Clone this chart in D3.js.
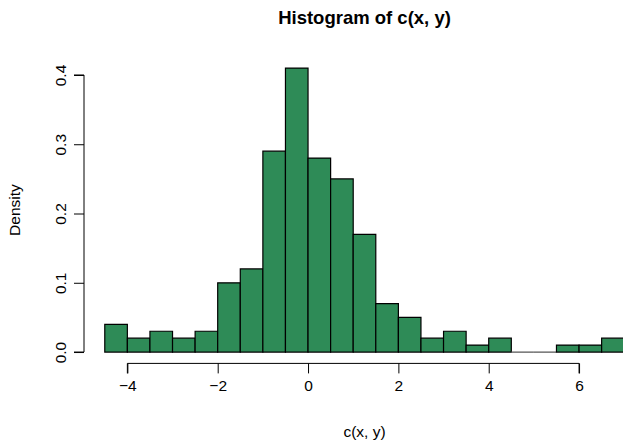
<!DOCTYPE html>
<html>
<head>
<meta charset="utf-8">
<script src="https://cdn.jsdelivr.net/npm/d3@7"></script>
<style>
  html, body { margin: 0; padding: 0; background: #fff; }
  svg { display: block; }
  text { font-family: "Liberation Sans", Arial, Helvetica, sans-serif; fill: #000; }
</style>
</head>
<body>
<svg id="chart" width="623" height="442"></svg>
<script>
// Histogram bin edges and densities of c(x, y)
const breaks = [-4.5, -4, -3.5, -3, -2.5, -2, -1.5, -1, -0.5, 0, 0.5, 1, 1.5, 2,
                2.5, 3, 3.5, 4, 4.5, 5, 5.5, 6, 6.5, 7];
const density = [0.04, 0.02, 0.03, 0.02, 0.03, 0.10, 0.12, 0.29, 0.41, 0.28, 0.25,
                 0.17, 0.07, 0.05, 0.02, 0.03, 0.01, 0.02, 0.00, 0.00, 0.01, 0.01, 0.02];
const xTicks = [-4, -2, 0, 2, 4, 6];
const yTicks = [0.0, 0.1, 0.2, 0.3, 0.4];

const bins = density.map((d, i) => ({ x0: breaks[i], x1: breaks[i + 1], d }));

const svg = d3.select("#chart");

// Plot region with R-style 4% padding on each axis
const plot = { left: 84, right: 645, top: 56.7, bottom: 363.4 };
const xr = [d3.min(breaks), d3.max(breaks)];
const xpad = (xr[1] - xr[0]) * 0.04;
const yr = [0, d3.max(density)];
const ypad = (yr[1] - yr[0]) * 0.04;

const x = d3.scaleLinear().domain([xr[0] - xpad, xr[1] + xpad]).range([plot.left, plot.right]);
const y = d3.scaleLinear().domain([yr[0] - ypad, yr[1] + ypad]).range([plot.bottom, plot.top]);

// Bars as closed paths so that empty bins still show as a line on the baseline
svg.append("clipPath").attr("id", "plotclip")
  .append("rect")
  .attr("x", plot.left).attr("y", plot.top)
  .attr("width", plot.right - plot.left).attr("height", plot.bottom - plot.top);

svg.append("g").attr("clip-path", "url(#plotclip)")
  .selectAll("path").data(bins).join("path")
  .attr("d", b => {
    const l = x(b.x0), r = x(b.x1), t = y(b.d), z = y(0);
    return `M${l},${z}V${t}H${r}V${z}Z`;
  })
  .attr("fill", "#2E8B57")
  .attr("stroke", b => b.d === 0 ? "#555" : "#000")
  .attr("stroke-width", 1.2);

const fontSize = 15.5;

// x axis
const xAxis = svg.append("g").attr("transform", `translate(0,${plot.bottom})`)
  .call(d3.axisBottom(x).tickValues(xTicks).tickSize(10).tickPadding(7)
        .tickFormat(d3.format("d")));
xAxis.select(".domain")
  .attr("d", `M${x(xTicks[0])},10V0H${x(xTicks[xTicks.length - 1])}V10`);
xAxis.selectAll("line, .domain").attr("stroke", "#000").attr("stroke-width", 1);
xAxis.selectAll("text").attr("font-size", fontSize)
  .style("font-family", '"Liberation Sans", Arial, sans-serif');

// y axis with rotated labels
const yAxis = svg.append("g").attr("transform", `translate(${plot.left},0)`)
  .call(d3.axisLeft(y).tickValues(yTicks).tickSize(10).tickFormat(d3.format(".1f")));
yAxis.select(".domain")
  .attr("d", `M-10,${y(yTicks[0])}H0V${y(yTicks[yTicks.length - 1])}H-10`);
yAxis.selectAll("line, .domain").attr("stroke", "#000").attr("stroke-width", 1);
yAxis.selectAll(".tick text")
  .attr("x", null).attr("dy", null)
  .attr("text-anchor", "middle")
  .attr("transform", "translate(-18,0) rotate(-90)")
  .attr("font-size", fontSize)
  .style("font-family", '"Liberation Sans", Arial, sans-serif');

// Title and axis labels
const cx = (plot.left + plot.right) / 2;
svg.append("text").attr("x", cx).attr("y", 24)
  .attr("text-anchor", "middle").attr("font-size", 18.5).attr("font-weight", "bold")
  .text("Histogram of c(x, y)");

svg.append("text").attr("x", cx).attr("y", 437)
  .attr("text-anchor", "middle").attr("font-size", fontSize)
  .text("c(x, y)");

svg.append("text")
  .attr("transform", `translate(20,${(plot.top + plot.bottom) / 2}) rotate(-90)`)
  .attr("text-anchor", "middle").attr("font-size", fontSize)
  .text("Density");
</script>
</body>
</html>
